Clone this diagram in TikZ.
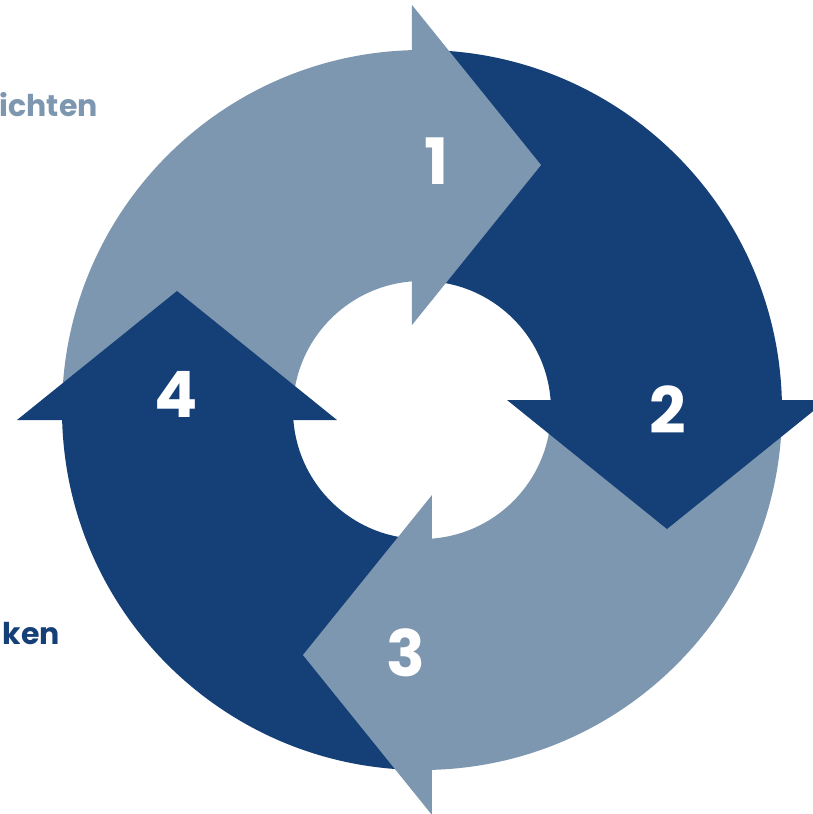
\documentclass[tikz,border=0pt]{standalone}
\usepackage{fontspec}
\setmainfont{Poppins}
\usepackage{tikz}
\usepackage{xcolor}
\usetikzlibrary{calc}
\definecolor{lightblue}{RGB}{125,151,176}
\definecolor{darkblue}{RGB}{21,64,119}

\begin{document}
\begin{tikzpicture}[x=1pt,y=1pt]
        \tikzstyle{every node}=[inner sep=0pt, font=\bfseries]
        \tikzstyle{num}=[text=white, font=\bfseries\fontsize{64}{64}\selectfont]
        \tikzstyle{side}=[anchor=base east, font=\bfseries\fontsize{30}{30}\selectfont]
        \useasboundingbox (-422,-404) rectangle (390,410);
        \coordinate (c) at (0,0);

        % ring parts
        \fill[lightblue] (180:360pt) arc (180:90:360pt) -- (90:129pt) arc (90:180:129pt) -- cycle;
        \fill[darkblue] (90:360pt) arc (90:0:360pt) -- (0:129pt) arc (0:90:129pt) -- cycle;
        \fill[lightblue] (0:360pt) arc (0:-90:360pt) -- (-90:129pt) arc (-90:0:129pt) -- cycle;
        \fill[darkblue] (-90:360pt) arc (-90:-180:360pt) -- (-180:129pt) arc (-180:-90:129pt) -- cycle;

        % heads
        \fill[lightblue] ($(c)+(-10,405)$) -- ($(c)+(119,245)$) -- ($(c)+(-10,85)$) -- cycle;
        \fill[darkblue] ($(c)+(405,10)$) -- ($(c)+(245,-119)$) -- ($(c)+(85,10)$) -- cycle;
        \fill[lightblue] ($(c)+(10,-405)$) -- ($(c)+(-119,-245)$) -- ($(c)+(10,-85)$) -- cycle;
        \fill[darkblue] ($(c)+(-405,-10)$) -- ($(c)+(-245,119)$) -- ($(c)+(-85,-10)$) -- cycle;

        \node[num] (n1) at ($(c)+(15,249)$) {1};
        \node[num] (n2) at ($(c)+(246,0)$) {2};
        \node[num] (n3) at ($(c)+(-16,-243)$) {3};
        \node[num] (n4) at ($(c)+(-246,16)$) {4};

        \node[side, text=lightblue] (t1) at ($(c)+(-324,293)$) {ichten};
        \node[side, text=darkblue] (t4) at ($(c)+(-362,-234)$) {ken};
    \end{tikzpicture}
\end{document}
